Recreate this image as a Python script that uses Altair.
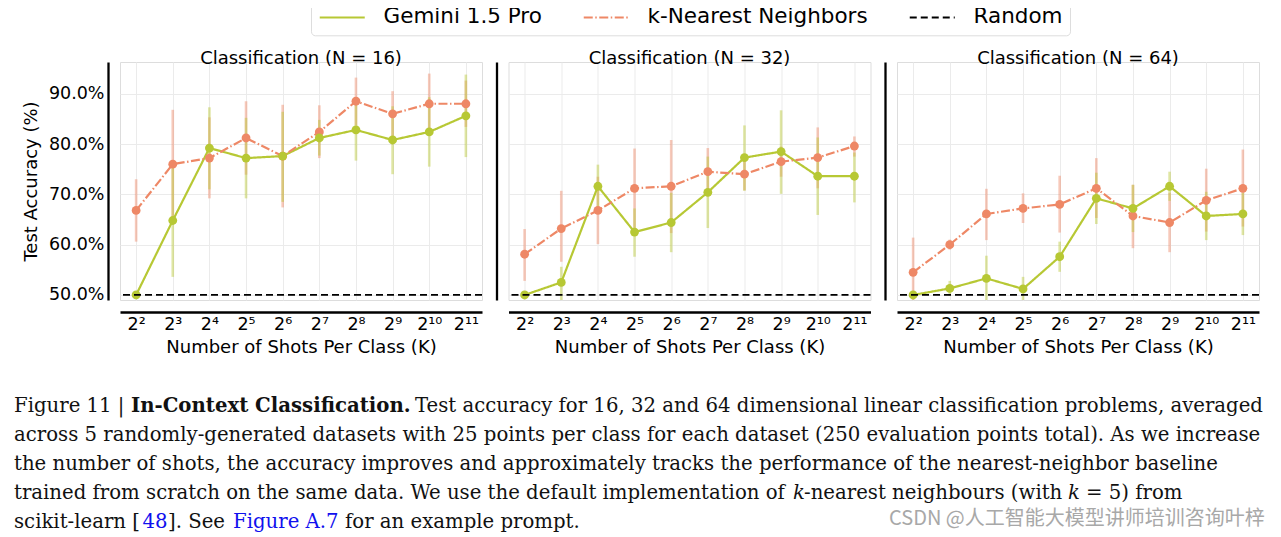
import altair as alt
import pandas as pd

# ---------------- data ----------------
shots = ["2²", "2³", "2⁴", "2⁵", "2⁶", "2⁷", "2⁸", "2⁹", "2¹⁰", "2¹¹"]
series_names = ["Gemini 1.5 Pro", "k-Nearest Neighbors", "Random"]
panel_titles = ["Classification (N = 16)", "Classification (N = 32)", "Classification (N = 64)"]
random_acc = [50.0]

gem_16 = [50.0, 64.8, 79.2, 77.2, 77.6, 81.2, 82.8, 80.8, 82.4, 85.6]
gem_16_lo = [50.0, 53.6, 71.0, 69.2, 68.5, 77.7, 76.7, 74.0, 75.5, 77.4]
gem_16_hi = [50.0, 76.0, 87.3, 85.2, 86.4, 84.8, 88.9, 87.5, 89.3, 93.8]
knn_16 = [66.8, 76.0, 77.2, 81.2, 77.6, 82.4, 88.5, 86.0, 88.0, 88.0]
knn_16_lo = [60.6, 65.2, 69.2, 73.9, 67.4, 77.2, 83.7, 81.6, 82.0, 83.4]
knn_16_hi = [73.0, 86.8, 85.3, 88.5, 87.8, 87.7, 93.2, 90.5, 94.0, 92.6]

gem_32 = [50.0, 52.5, 71.6, 62.5, 64.4, 70.4, 77.3, 78.5, 73.6, 73.6]
gem_32_lo = [50.0, 49.0, 67.4, 57.6, 58.5, 63.3, 70.7, 70.1, 65.9, 68.4]
gem_32_hi = [50.0, 55.6, 75.9, 67.2, 70.3, 77.5, 83.7, 86.7, 81.3, 78.3]
knn_32 = [58.1, 63.2, 66.8, 71.2, 71.6, 74.5, 74.0, 76.5, 77.3, 79.6]
knn_32_lo = [52.8, 56.6, 60.1, 63.3, 62.3, 69.9, 70.8, 73.5, 71.2, 77.5]
knn_32_hi = [63.1, 70.7, 73.5, 79.1, 80.8, 79.2, 76.9, 79.5, 83.3, 81.5]

gem_64 = [50.0, 51.3, 53.3, 51.2, 57.6, 69.2, 67.2, 71.6, 65.7, 66.1]
gem_64_lo = [50.0, 49.8, 49.0, 49.0, 54.6, 64.1, 62.5, 68.7, 60.9, 61.9]
gem_64_hi = [50.0, 52.8, 57.8, 53.6, 60.6, 74.3, 71.9, 74.5, 70.5, 70.3]
knn_64 = [54.5, 60.0, 66.1, 67.2, 68.0, 71.2, 65.7, 64.4, 68.8, 71.2]
knn_64_lo = [49.0, 59.0, 60.9, 64.3, 62.4, 65.3, 59.3, 58.5, 62.6, 63.6]
knn_64_hi = [61.4, 61.0, 71.1, 70.2, 73.7, 77.2, 71.9, 70.3, 75.1, 78.9]

y_ticks = [50, 60, 70, 80, 90]

caption_line1 = ["Figure 11 | ", "In-Context Classification.",
                 "Test accuracy for 16, 32 and 64 dimensional linear classification problems, averaged"]
caption_line2 = ["across 5 randomly-generated datasets with 25 points per class for each dataset (250 evaluation points total). As we increase"]
caption_line3 = ["the number of shots, the accuracy improves and approximately tracks the performance of the nearest-neighbor baseline"]
caption_line4 = ["trained from scratch on the same data. We use the default implementation of", "k",
                 "-nearest neighbours (with", "k", "= 5) from"]
caption_line5 = ["scikit-learn [", "48", "]. See", "Figure A.7", "for an example prompt."]
watermark = ["CSDN @人工智能大模型讲师培训咨询叶梓"]

# ---------------- style ----------------
GREEN = "#b7c834"
ORANGE = "#ee8866"
FONT = "DejaVu Sans"
SERIF = "DejaVu Serif"
GRID = "#ebebeb"

color_scale = alt.Scale(domain=series_names, range=[GREEN, ORANGE, "black"])
dash_scale = alt.Scale(domain=series_names, range=[[1, 0], [9, 2.5, 1.5, 2.5], [7, 4]])
y_scale = alt.Scale(domain=[49.0, 96.3], nice=False, zero=False)
x_scale = alt.Scale(type="point", domain=shots, padding=0.44)

legend = alt.Legend(
    title=None, orient="none", legendX=191, legendY=-62.7, direction="horizontal",
    symbolType="M-1,0L4,0", symbolSize=324, symbolStrokeWidth=2,
    labelFontSize=21.5, labelFont=FONT, labelColor="black", labelOffset=44,
    columnPadding=37, padding=7, strokeColor="#dddddd", fillColor="white",
    cornerRadius=4, labelLimit=400,
)


def make_panel(idx, gem, gem_lo, gem_hi, knn, knn_lo, knn_hi):
    first = idx == 0
    df = pd.DataFrame({
        "shot": shots * 2,
        "series": [series_names[0]] * len(shots) + [series_names[1]] * len(shots),
        "acc": gem + knn,
        "lo": gem_lo + knn_lo,
        "hi": gem_hi + knn_hi,
    })
    x_axis = alt.Axis(
        title="Number of Shots Per Class (K)", labelAngle=0, offset=12, ticks=False,
        domainColor="black", domainWidth=2.5, grid=True, gridColor=GRID, gridWidth=1,
        labelFont=FONT, labelFontSize=17.5, labelColor="black", labelPadding=3,
        titleFont=FONT, titleFontSize=18, titleFontWeight="normal", titleColor="black",
        titlePadding=6,
    )
    y_kwargs = dict(
        values=y_ticks, offset=12, ticks=False, domainColor="black", domainWidth=2.3,
        grid=True, gridColor=GRID, gridWidth=1,
        labelFont=FONT, labelFontSize=17.5, labelColor="black", labelPadding=4,
        labelExpr="format(datum.value, '.1f') + '%'",
        titleFont=FONT, titleFontSize=18, titleFontWeight="normal", titleColor="black",
        titlePadding=8,
    )
    if first:
        y_axis = alt.Axis(title="Test Accuracy (%)", **y_kwargs)
    else:
        y_axis = alt.Axis(title=None, labels=False, **y_kwargs)

    x = alt.X("shot:O", scale=x_scale, axis=x_axis, sort=shots)
    y_acc = alt.Y("acc:Q", scale=y_scale, axis=y_axis)
    y_lo = alt.Y("lo:Q", scale=y_scale, axis=y_axis)

    base = alt.Chart(df)
    knn_only = base.transform_filter(alt.datum.series == series_names[1])
    gem_only = base.transform_filter(alt.datum.series == series_names[0])

    bars_knn = knn_only.mark_rule(color=ORANGE, opacity=0.45, strokeWidth=2.6).encode(x=x, y=y_lo, y2="hi:Q")
    bars_gem = gem_only.mark_rule(color=GREEN, opacity=0.45, strokeWidth=2.6).encode(x=x, y=y_lo, y2="hi:Q")
    lines = base.mark_line(strokeWidth=2.2).encode(
        x=x, y=y_acc,
        color=alt.Color("series:N", scale=color_scale, legend=legend),
        strokeDash=alt.StrokeDash("series:N", scale=dash_scale, legend=legend),
    )
    pts_knn = knn_only.mark_circle(size=78, color=ORANGE, opacity=1).encode(x=x, y=y_acc)
    pts_gem = gem_only.mark_circle(size=78, color=GREEN, opacity=1).encode(x=x, y=y_acc)
    rnd = alt.Chart(pd.DataFrame({"series": [series_names[2]], "acc": random_acc})).mark_rule(
        strokeWidth=1.7
    ).encode(
        y=y_acc,
        color=alt.Color("series:N", scale=color_scale, legend=legend),
        strokeDash=alt.StrokeDash("series:N", scale=dash_scale, legend=legend),
    )
    return alt.layer(bars_knn, bars_gem, lines, pts_knn, pts_gem, rnd).properties(
        width=362, height=238,
        title=alt.TitleParams(panel_titles[idx], font=FONT, fontSize=18, fontWeight="normal",
                              color="black", anchor="middle", offset=-6),
    )


p1 = make_panel(0, gem_16, gem_16_lo, gem_16_hi, knn_16, knn_16_lo, knn_16_hi)
p2 = make_panel(1, gem_32, gem_32_lo, gem_32_hi, knn_32, knn_32_lo, knn_32_hi)
p3 = make_panel(2, gem_64, gem_64_lo, gem_64_hi, knn_64, knn_64_lo, knn_64_hi)
panels = alt.hconcat(p1, p2, p3, spacing=26.5, bounds="flush")

CAP_SIZE = 19.7


def seg(text, x, y, weight="normal", style="normal", color="#111111", font=SERIF, size=CAP_SIZE):
    return alt.Chart(pd.DataFrame({"t": [text]})).mark_text(
        align="left", baseline="middle", font=font, fontSize=size, fontWeight=weight,
        fontStyle=style, color=color,
    ).encode(text="t:N", x=alt.value(x), y=alt.value(y))


BLUE = "#1010ee"
L = [66.3, 95.3, 124.3, 153.3, 181.5]
caption = alt.layer(
    seg(caption_line1[0], -106, L[0]),
    seg(caption_line1[1], 11, L[0], weight="bold"),
    seg(caption_line1[2], 295, L[0]),
    seg(caption_line2[0], -106, L[1]),
    seg(caption_line3[0], -106, L[2]),
    seg(caption_line4[0], -106, L[3]),
    seg(caption_line4[1], 673, L[3], style="italic"),
    seg(caption_line4[2], 684, L[3]),
    seg(caption_line4[3], 948, L[3], style="italic"),
    seg(caption_line4[4], 966, L[3]),
    seg(caption_line5[0], -106, L[4]),
    seg(caption_line5[1], 22.5, L[4], color=BLUE),
    seg(caption_line5[2], 48, L[4]),
    seg(caption_line5[3], 113, L[4], color=BLUE),
    seg(caption_line5[4], 225, L[4]),
    seg(watermark[0], 769, 179.0, color="#a8a8a8", font="Noto Sans CJK SC", size=20),
).properties(width=1140, height=150, view=alt.ViewBackground(stroke=None, fill=None))

chart = alt.vconcat(panels, caption, spacing=278, bounds="flush").properties(
    padding={"left": 6, "top": -10, "right": 0, "bottom": 0}
).configure_view(stroke=None, strokeWidth=0).configure(background="white")

chart.save("out.html", embed_options={"renderer": "svg", "actions": False})
